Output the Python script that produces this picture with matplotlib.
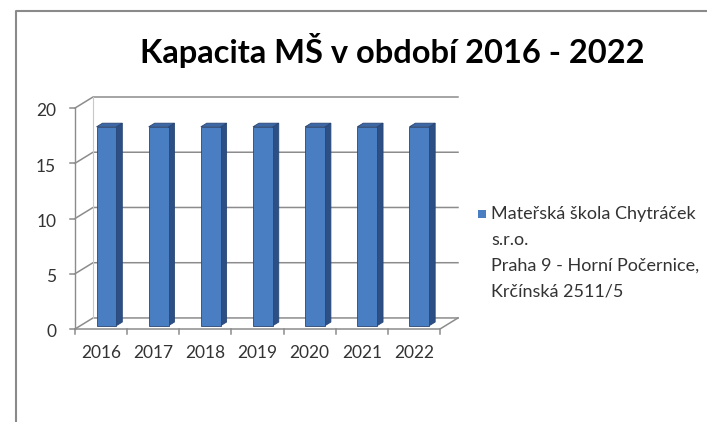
import matplotlib.pyplot as plt
from matplotlib.patches import Polygon, Rectangle
from matplotlib.lines import Line2D

# data
years = ['2016', '2017', '2018', '2019', '2020', '2021', '2022']
kapacita = [18, 18, 18, 18, 18, 18, 18]
y_ticks = [0, 5, 10, 15, 20]
title = 'Kapacita MŠ v období 2016 - 2022'
legend_lines = ['Mateřská škola Chytráček', 's.r.o.', 'Praha 9 - Horní Počernice,', 'Krčínská 2511/5']

plt.rcParams['font.family'] = ['Lato', 'DejaVu Sans']

W, H = 707, 422
fig = plt.figure(figsize=(W / 100, H / 100), dpi=100)

# 3D depth offset (data units) of the back wall
DX, DY = 0.345, 1.0
n = len(years)

ax = fig.add_axes([75 / W, (H - 329) / H, (458 - 75) / W, (329 - 97) / H])
ax.set_xlim(0, n + DX)
ax.set_ylim(0, 20 + DY)
ax.axis('off')

grid_c = '#8c8c8c'
# walls / gridlines
for v in y_ticks:
    ax.plot([0, DX, n + DX], [v, v + DY, v + DY], color=grid_c, lw=1.1, clip_on=False)
    ax.plot([-0.1, 0], [v, v], color=grid_c, lw=1.1, clip_on=False)
    ax.text(-0.36, v - 0.3, str(v), ha='right', va='center', fontsize=12.5, color='#333333')
ax.plot([0, 0], [0, 20], color=grid_c, lw=1.0, clip_on=False)
ax.plot([DX, DX], [DY, 20 + DY], color='#c8c8c8', lw=0.8, clip_on=False)
# floor front edge
ax.plot([0, n, n + DX], [0, 0, DY], color=grid_c, lw=1.1, clip_on=False)
for i in range(n + 1):
    ax.plot([i, i], [0, -0.45], color=grid_c, lw=1.1, clip_on=False)

# bars
w = 0.38
d0, d1 = 0.3, 0.63
front_c, side_c, top_c, edge_c = '#4a7ec2', '#2c4f86', '#3c68a8', '#2a4673'
for i, val in enumerate(kapacita):
    x0 = i + 0.5 - w / 2 + d0 * DX
    x1 = x0 + w
    yb = d0 * DY
    yt = val + d0 * DY
    ddx = (d1 - d0) * DX
    ddy = (d1 - d0) * DY
    ax.add_patch(Polygon([(x1, yb), (x1 + ddx, yb + ddy), (x1 + ddx, yt + ddy), (x1, yt)],
                         closed=True, fc=side_c, ec=edge_c, lw=0.6, zorder=3))
    ax.add_patch(Polygon([(x0, yt), (x0 + ddx, yt + ddy), (x1 + ddx, yt + ddy), (x1, yt)],
                         closed=True, fc=top_c, ec=edge_c, lw=0.6, zorder=3))
    ax.add_patch(Rectangle((x0, yb), w, val, fc=front_c, ec=edge_c, lw=0.6, zorder=4))
    ax.text(i + 0.5, -2.15, years[i], ha='center', va='center', fontsize=12.5, color='#333333')

# title
fig.text(392 / W, 1 - 50 / H, title, ha='center', va='center', fontsize=23.5,
         fontweight='bold', color='black')

# legend
fig.add_artist(Rectangle((478 / W, 1 - 218 / H), 8 / W, 8 / H, fc='#4a7ec2', ec='none',
                         transform=fig.transFigure))
for k, line in enumerate(legend_lines):
    fig.text(491 / W, 1 - (214 + 25.7 * k) / H, line, ha='left', va='center',
             fontsize=13, color='#333333')

# chart border (left and top edges)
fig.add_artist(Line2D([16 / W, 16 / W, 1], [0, 1 - 11 / H, 1 - 11 / H],
                      color='#8a8a8a', lw=1.5, transform=fig.transFigure))

plt.savefig('out.png', dpi=100)
